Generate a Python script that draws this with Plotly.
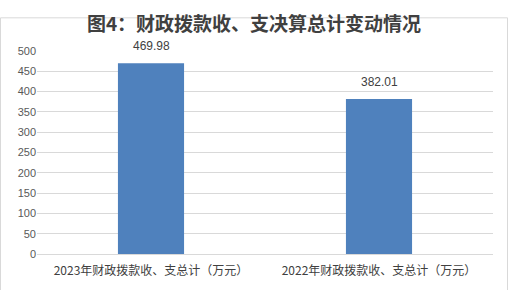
import plotly.graph_objects as go

categories = ["2023年财政拨款收、支总计（万元）", "2022年财政拨款收、支总计（万元）"]
values = [469.98, 382.01]
y_ticks = [0, 50, 100, 150, 200, 250, 300, 350, 400, 450, 500]

W, H = 508, 290
L, R, T, B = 37, 15, 51, 34
pw, ph = W - L - R, H - T - B

fig = go.Figure(go.Bar(
    x=categories, y=values,
    marker=dict(color="#4f81bd", line=dict(width=0)),
    width=0.29,
))

for c, v in zip(categories, values):
    fig.add_annotation(x=c, y=v, text=f"{v:.2f}", showarrow=False,
                       yanchor="bottom", yshift=8,
                       font=dict(size=12, color="#404040", family="Liberation Sans, Arial"))

fig.update_layout(
    width=W, height=H,
    margin=dict(l=L, r=R, t=T, b=B),
    paper_bgcolor="white", plot_bgcolor="white",
    showlegend=False,
    title=dict(text="<b>图4：财政拨款收、支决算总计变动情况</b>",
               x=0.5, xanchor="center", y=1 - 24 / H, yanchor="middle",
               font=dict(size=19, color="#404040", family="Noto Sans CJK SC")),
    xaxis=dict(showgrid=False, showline=False, ticks="", ticklabelstandoff=8,
               tickfont=dict(size=12, color="#404040", family="Noto Sans CJK SC")),
    yaxis=dict(range=[0, 500], tickvals=y_ticks, showgrid=True, gridcolor="#d9d9d9",
               gridwidth=1, zeroline=True, zerolinecolor="#d9d9d9", zerolinewidth=1,
               showline=False, ticks="",
               tickfont=dict(size=11, color="#595959", family="Liberation Sans, Arial")),
    shapes=[dict(type="rect", xref="paper", yref="paper",
                 x0=(0.5 - L) / pw, x1=(W - 0.5 - L) / pw,
                 y0=(H - T - (H - 0.5)) / ph, y1=(H - T - 0.5) / ph,
                 line=dict(color="#d9d9d9", width=1), layer="above")],
)

fig.write_html("out.html")
